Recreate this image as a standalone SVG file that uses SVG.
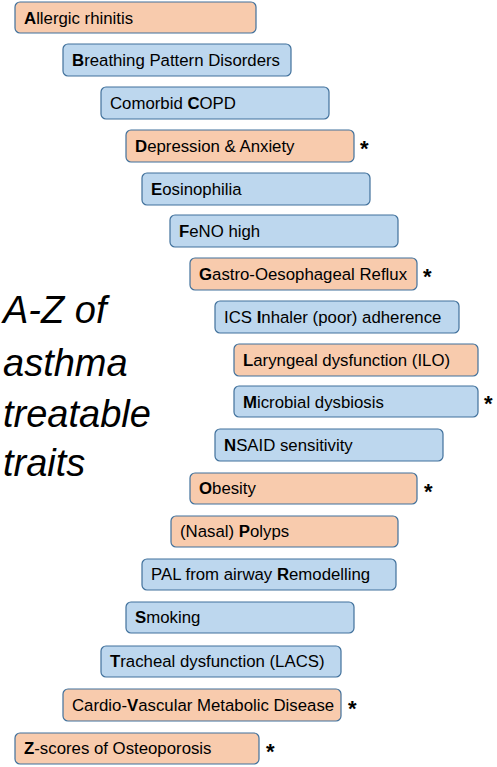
<svg xmlns="http://www.w3.org/2000/svg" width="497" height="767" viewBox="0 0 497 767">
<style>
.o{fill:#F8CBAD;stroke:#41719C;stroke-width:1.2}
.b{fill:#BDD7EE;stroke:#41719C;stroke-width:1.2}
.t{font-family:"Liberation Sans",Arial,sans-serif;font-size:16.8px;fill:#000}
.k{font-weight:bold}
.s{font-family:"Liberation Sans",Arial,sans-serif;font-size:22px;font-weight:bold;fill:#000}
.h{font-family:"Liberation Sans",Arial,sans-serif;font-size:38px;font-style:italic;fill:#000}
</style>
<rect width="497" height="767" fill="#fff"/>
<g id="title">
<text class="h" x="3" y="323">A-Z of</text>
<text class="h" x="3" y="376">asthma</text>
<text class="h" x="3" y="427">treatable</text>
<text class="h" x="3" y="476">traits</text>
</g>
<g id="connectors"></g>
<g id="nA"><rect class="o" x="15" y="2" width="241" height="31" rx="5"/><text class="t" x="24" y="23.5"><tspan class="k">A</tspan>llergic rhinitis</text></g>
<g id="nB"><rect class="b" x="63" y="44" width="228" height="32" rx="5"/><text class="t" x="72" y="66"><tspan class="k">B</tspan>reathing Pattern Disorders</text></g>
<g id="nC"><rect class="b" x="101" y="87" width="228" height="32" rx="5"/><text class="t" x="110" y="109">Comorbid <tspan class="k">C</tspan>OPD</text></g>
<g id="nD"><rect class="o" x="126" y="130" width="228" height="32" rx="5"/><text class="t" x="135" y="152"><tspan class="k">D</tspan>epression &amp; Anxiety</text><text class="s" x="360" y="156">*</text></g>
<g id="nE"><rect class="b" x="142" y="173" width="228" height="32" rx="5"/><text class="t" x="151" y="195"><tspan class="k">E</tspan>osinophilia</text></g>
<g id="nF"><rect class="b" x="170" y="215" width="228" height="32" rx="5"/><text class="t" x="179" y="237"><tspan class="k">F</tspan>eNO high</text></g>
<g id="nG"><rect class="o" x="190" y="258" width="227" height="32" rx="5"/><text class="t" x="199" y="280"><tspan class="k">G</tspan>astro-Oesophageal Reflux</text><text class="s" x="423" y="284">*</text></g>
<g id="nI"><rect class="b" x="215" y="301" width="244" height="32" rx="5"/><text class="t" x="224" y="323">ICS <tspan class="k">I</tspan>nhaler (poor) adherence</text></g>
<g id="nL"><rect class="o" x="234" y="344" width="244" height="32" rx="5"/><text class="t" x="243" y="366"><tspan class="k">L</tspan>aryngeal dysfunction (ILO)</text></g>
<g id="nM"><rect class="b" x="234" y="386" width="244" height="31" rx="5"/><text class="t" x="243" y="408"><tspan class="k">M</tspan>icrobial dysbiosis</text><text class="s" x="484" y="411">*</text></g>
<g id="nN"><rect class="b" x="215" y="429" width="228" height="32" rx="5"/><text class="t" x="224" y="451"><tspan class="k">N</tspan>SAID sensitivity</text></g>
<g id="nO"><rect class="o" x="190" y="473" width="227" height="31" rx="5"/><text class="t" x="199" y="494"><tspan class="k">O</tspan>besity</text><text class="s" x="424" y="499">*</text></g>
<g id="nP"><rect class="o" x="171" y="516" width="227" height="31" rx="5"/><text class="t" x="180" y="537">(Nasal) <tspan class="k">P</tspan>olyps</text></g>
<g id="nR"><rect class="b" x="142" y="559" width="254" height="31" rx="5"/><text class="t" x="151" y="580">PAL from airway <tspan class="k">R</tspan>emodelling</text></g>
<g id="nS"><rect class="b" x="126" y="602" width="228" height="31" rx="5"/><text class="t" x="135" y="623"><tspan class="k">S</tspan>moking</text></g>
<g id="nT"><rect class="b" x="101" y="646" width="240" height="31" rx="5"/><text class="t" x="110" y="667"><tspan class="k">T</tspan>racheal dysfunction (LACS)</text></g>
<g id="nV"><rect class="o" x="63" y="689" width="278" height="32" rx="5"/><text class="t" x="72" y="711">Cardio-<tspan class="k">V</tspan>ascular Metabolic Disease</text><text class="s" x="348" y="716">*</text></g>
<g id="nZ"><rect class="o" x="15" y="733" width="244" height="31" rx="5"/><text class="t" x="24" y="754"><tspan class="k">Z</tspan>-scores of Osteoporosis</text><text class="s" x="266" y="759">*</text></g>
</svg>
